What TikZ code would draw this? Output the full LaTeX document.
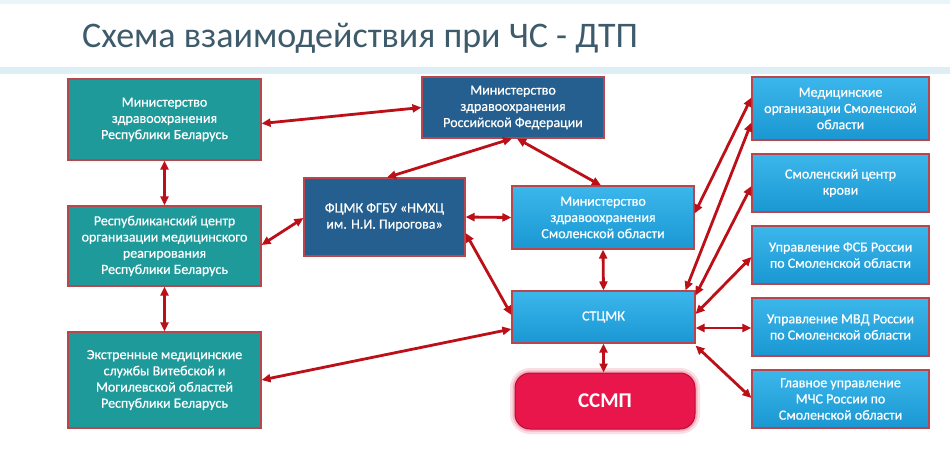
\documentclass[tikz,border=0pt]{standalone}
\usepackage{fontspec}
\setmainfont{Carlito}
\usetikzlibrary{arrows.meta,calc}
\definecolor{tealc}{HTML}{1F9A9B}
\definecolor{darkb}{HTML}{255F8F}
\definecolor{ltop}{HTML}{3CB7EC}
\definecolor{lbot}{HTML}{1A97D2}
\definecolor{edgec}{HTML}{B8464C}
\definecolor{arrc}{HTML}{BC0F18}
\definecolor{titlec}{HTML}{3D5B6B}
\definecolor{bandc}{HTML}{DDEFF5}
\definecolor{topc}{HTML}{EAF5F9}
\definecolor{ssmpc}{HTML}{E8164B}
\definecolor{ssmpe}{HTML}{B50F32}
\definecolor{glowc}{HTML}{F27A95}
\tikzset{
  box/.style={draw=edgec, line width=1.1pt, text=white, align=center,
    font=\fontsize{14}{16.2}\selectfont\addfontfeature{FakeBold=0.6}, inner sep=2pt},
  tealbox/.style={box, fill=tealc},
  darkbox/.style={box, fill=darkb},
  lightbox/.style={box, top color=ltop, bottom color=lbot},
  link/.style={{Triangle[length=9pt,width=8pt]}-{Triangle[length=9pt,width=8pt]},
    line width=2.8pt, draw=arrc},
}
\begin{document}
\begin{tikzpicture}[x=1pt,y=-1pt]
\useasboundingbox (0,0) rectangle (950,451);
\fill[white] (0,0) rectangle (950,451);
\fill[topc] (0,0) rectangle (950,4);
\fill[bandc] (0,67) rectangle (950,74);
\node[anchor=base west, inner sep=0pt, text=titlec, font=\fontsize{36}{40}\selectfont] (title) at (82,47) {Схема взаимодействия при ЧС - ДТП};

% left column
\node[tealbox, minimum width=193pt, minimum height=81pt] (belmin) at (164.5,119.5) {Министерство\\здравоохранения\\Республики Беларусь};
\node[tealbox, minimum width=193pt, minimum height=80pt] (belcenter) at (164.5,246) {Республиканский центр\\организации медицинского\\реагирования\\Республики Беларусь};
\node[tealbox, minimum width=193pt, minimum height=96pt] (emerg) at (164.5,380) {Экстренные медицинские\\службы Витебской и\\Могилевской областей\\Республики Беларусь};

% middle
\node[darkbox, minimum width=182pt, minimum height=61pt] (rfmin) at (513,107.5) {Министерство\\здравоохранения\\Российской Федерации};
\node[darkbox, minimum width=161pt, minimum height=78pt] (fcmk) at (384.5,217) {ФЦМК ФГБУ «НМХЦ\\им. Н.И. Пирогова»};
\node[lightbox, minimum width=182pt, minimum height=63pt] (smolmin) at (603,217.5) {Министерство\\здравоохранения\\Смоленской области};
\node[lightbox, minimum width=183pt, minimum height=52pt] (stcmk) at (603.5,317) {СТЦМК};
\node[fill=ssmpc, draw=ssmpe, line width=1pt, rounded corners=15pt, text=white,
  font=\fontsize{21}{24}\selectfont\bfseries, minimum width=180pt, minimum height=56pt,
  preaction={draw=glowc, line width=10pt, opacity=0.25},
  preaction={draw=glowc, line width=5pt, opacity=0.45}] (ssmp) at (605,401) {ССМП};

% right column
\node[lightbox, minimum width=177pt, minimum height=63pt] (medorg) at (840.5,108.5) {Медицинские\\организации Смоленской\\области};
\node[lightbox, minimum width=177pt, minimum height=58pt] (blood) at (840.5,183) {Смоленский центр\\крови};
\node[lightbox, minimum width=177pt, minimum height=58pt] (fsb) at (840.5,255) {Управление ФСБ России\\по Смоленской области};
\node[lightbox, minimum width=177pt, minimum height=58pt] (mvd) at (840.5,327) {Управление МВД России\\по Смоленской области};
\node[lightbox, minimum width=177pt, minimum height=58pt] (mchs) at (840.5,399) {Главное управление\\МЧС России по\\Смоленской области};

% connectors
\draw[link] ($(belmin.east)+(0,4)$) -- (rfmin.west);
\draw[link] (belmin.south) -- (belcenter.north);
\draw[link] (belcenter.south) -- (emerg.north);
\draw[link] ($(rfmin.south)+(-1,0)$) -- ($(fcmk.north)+(2.5,0)$);
\draw[link] ($(rfmin.south)+(4,0)$) -- ($(smolmin.north)+(-2,0)$);
\draw[link] ($(belcenter.east)+(0,-1)$) -- ($(fcmk.west)+(0,1)$);
\draw[link] (fcmk.east) -- (smolmin.west);
\draw[link] ($(fcmk.east)+(0,16)$) -- ($(stcmk.west)+(0,-2)$);
\draw[link] (emerg.east) -- ($(stcmk.west)+(0,12)$);
\draw[link] (smolmin.south) -- (stcmk.north);
\draw[link] (stcmk.south) -- (stcmk.south |- ssmp.north);
\draw[link] ($(smolmin.east)+(0,-4)$) -- ($(medorg.west)+(0,-11)$);
\draw[link] ($(stcmk.north)+(82,0)$) -- ($(medorg.west)+(0,14)$);
\draw[link] ($(stcmk.north east)+(0,5)$) -- ($(blood.west)+(0,3)$);
\draw[link] ($(stcmk.east)+(0,-3)$) -- ($(fsb.west)+(0,2)$);
\draw[link] ($(stcmk.east)+(0,11)$) -- ($(mvd.west)+(0,1)$);
\draw[link] ($(stcmk.south east)+(0,2)$) -- ($(mchs.west)+(0,-1)$);
\end{tikzpicture}
\end{document}
